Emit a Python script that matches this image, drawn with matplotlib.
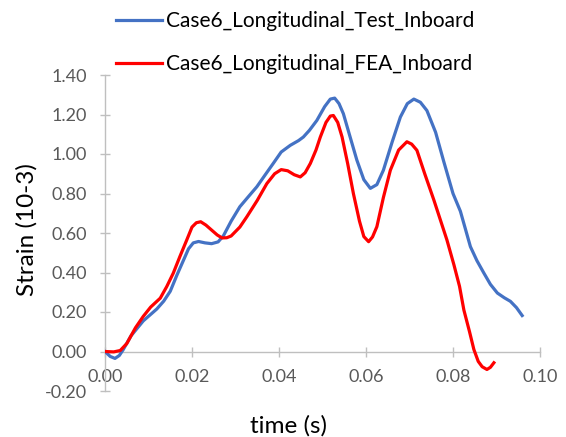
import matplotlib
matplotlib.use("Agg")
import matplotlib.pyplot as plt
from matplotlib.ticker import FormatStrFormatter

# series
test_t = [0.0000, 0.0012, 0.0023, 0.0033, 0.0042, 0.0060, 0.0088, 0.0119, 0.0135, 0.0150,
          0.0165, 0.0180, 0.0192, 0.0203, 0.0215, 0.0230, 0.0245, 0.0260, 0.0272, 0.0290,
          0.0310, 0.0330, 0.0349, 0.0370, 0.0387, 0.0405, 0.0426, 0.0445, 0.0456, 0.0470,
          0.0487, 0.0505, 0.0518, 0.0528, 0.0538, 0.0548, 0.0563, 0.0579, 0.0595, 0.0610,
          0.0625, 0.0640, 0.0660, 0.0679, 0.0695, 0.0710, 0.0725, 0.0740, 0.0760, 0.0779,
          0.0800, 0.0817, 0.0840, 0.0855, 0.0871, 0.0886, 0.0902, 0.0918, 0.0932, 0.0946,
          0.0959]
test_strain = [0.000, -0.025, -0.035, -0.020, 0.010, 0.080, 0.155, 0.215, 0.255, 0.305,
               0.385, 0.460, 0.520, 0.550, 0.557, 0.550, 0.546, 0.555, 0.585, 0.660,
               0.733, 0.785, 0.834, 0.900, 0.953, 1.010, 1.044, 1.068, 1.086, 1.120,
               1.170, 1.240, 1.278, 1.283, 1.255, 1.204, 1.090, 0.969, 0.870, 0.826,
               0.845, 0.918, 1.060, 1.187, 1.255, 1.278, 1.262, 1.220, 1.110, 0.960,
               0.800, 0.710, 0.531, 0.460, 0.397, 0.340, 0.296, 0.272, 0.254, 0.222,
               0.182]

fea_t = [0.0000, 0.0020, 0.0035, 0.0050, 0.0070, 0.0088, 0.0105, 0.0127, 0.0142, 0.0157,
         0.0172, 0.0188, 0.0200, 0.0210, 0.0220, 0.0232, 0.0245, 0.0258, 0.0269, 0.0280,
         0.0290, 0.0310, 0.0326, 0.0350, 0.0372, 0.0390, 0.0405, 0.0420, 0.0435, 0.0449,
         0.0460, 0.0472, 0.0485, 0.0495, 0.0508, 0.0518, 0.0525, 0.0535, 0.0545, 0.0558,
         0.0571, 0.0585, 0.0595, 0.0606, 0.0615, 0.0625, 0.0640, 0.0656, 0.0675, 0.0694,
         0.0705, 0.0717, 0.0735, 0.0756, 0.0771, 0.0786, 0.0802, 0.0815, 0.0825, 0.0838,
         0.0848, 0.0858, 0.0867, 0.0878, 0.0886, 0.0894]
fea_strain = [0.000, -0.002, 0.005, 0.040, 0.120, 0.178, 0.225, 0.270, 0.329, 0.397,
              0.480, 0.565, 0.630, 0.652, 0.657, 0.640, 0.615, 0.590, 0.575, 0.576,
              0.585, 0.630, 0.682, 0.765, 0.850, 0.900, 0.921, 0.915, 0.895, 0.884,
              0.905, 0.952, 1.020, 1.086, 1.160, 1.192, 1.195, 1.160, 1.086, 0.950,
              0.800, 0.660, 0.582, 0.556, 0.580, 0.632, 0.780, 0.918, 1.020, 1.062,
              1.050, 1.019, 0.900, 0.767, 0.666, 0.565, 0.440, 0.330, 0.210, 0.100,
              0.010, -0.050, -0.077, -0.091, -0.080, -0.057]

labels = ["Case6_Longitudinal_Test_Inboard", "Case6_Longitudinal_FEA_Inboard"]
xticks = [0.00, 0.02, 0.04, 0.06, 0.08, 0.10]
yticks = [-0.20, 0.00, 0.20, 0.40, 0.60, 0.80, 1.00, 1.20, 1.40]

plt.rcParams['font.family'] = ['Lato', 'DejaVu Sans']

fig = plt.figure(figsize=(5.66, 4.37), dpi=100)
ax = fig.add_axes([105/566, 1-391/437, 435/566, 316/437])

ax.plot(test_t, test_strain, color='#4472C4', lw=2.3, label=labels[0], zorder=3)
ax.plot(fea_t, fea_strain, color='#FF0000', lw=2.3, label=labels[1], zorder=3)

ax.set_xlim(0, 0.10)
ax.set_ylim(-0.20, 1.40)
ax.set_xticks(xticks)
ax.set_yticks(yticks)
ax.xaxis.set_major_formatter(FormatStrFormatter('%.2f'))
ax.yaxis.set_major_formatter(FormatStrFormatter('%.2f'))

for s in ['top', 'right']:
    ax.spines[s].set_visible(False)
ax.spines['bottom'].set_position(('data', 0))
for s in ['left', 'bottom']:
    ax.spines[s].set_color('#BFBFBF')
    ax.spines[s].set_linewidth(1.0)

ax.tick_params(axis='both', direction='inout', length=7, width=1.0,
               color='#BFBFBF', labelcolor='#595959', labelsize=13)
ax.tick_params(axis='x', pad=9)
ax.tick_params(axis='y', pad=9.5)

fig.text(27/566, 1-230/437, 'Strain (10-3)', rotation=90, ha='center', va='center',
         fontsize=17.5, color='#000000')
fig.text(288/566, 1-426/437, 'time (s)', ha='center', va='center',
         fontsize=17.5, color='#000000')

fig.legend(loc='upper left', bbox_to_anchor=(116/566, 1-11/437), frameon=False,
           fontsize=15, handlelength=2.2, handletextpad=0.2, labelspacing=1.1,
           borderpad=0, borderaxespad=0)

fig.savefig('out.png', dpi=100)
